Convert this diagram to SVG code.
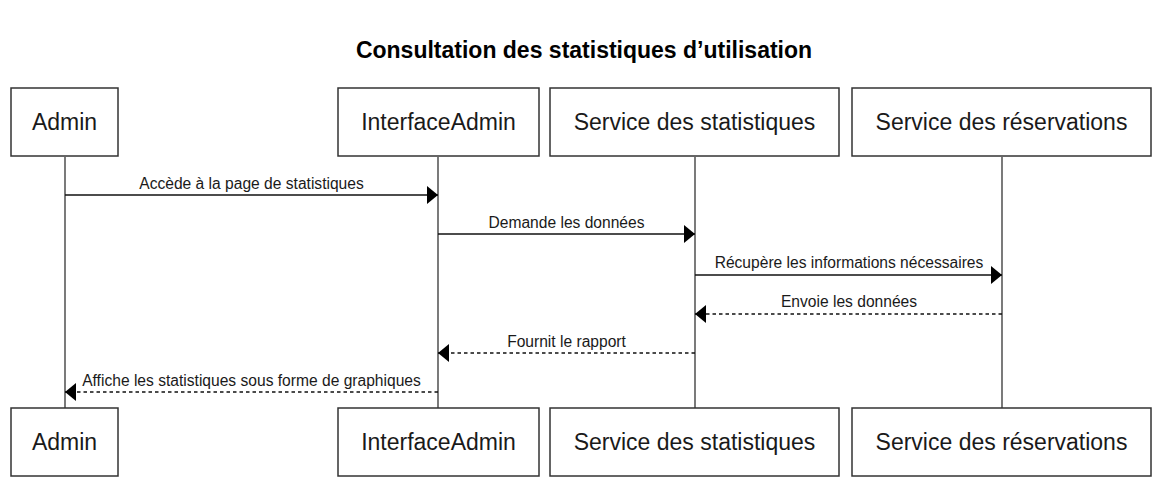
<svg xmlns="http://www.w3.org/2000/svg" width="1162" height="486" viewBox="0 0 1162 486">
  <style>
    .box { fill: #ffffff; stroke: #333333; stroke-width: 1.5; }
    .boxlabel { font-family: "Liberation Sans", Arial, sans-serif; font-size: 23px; fill: #1a1a1a; text-anchor: middle; }
    .title { font-family: "Liberation Sans", Arial, sans-serif; font-size: 23px; font-weight: bold; fill: #000000; text-anchor: middle; }
    .lifeline { stroke: #222222; stroke-width: 1.2; fill: none; }
    .msg { stroke: #111111; stroke-width: 1.5; fill: none; marker-end: url(#ah); }
    .ret { stroke: #111111; stroke-width: 1.5; fill: none; stroke-dasharray: 3.5,3; marker-end: url(#ah); }
    .msglabel { font-family: "Liberation Sans", Arial, sans-serif; font-size: 15.6px; fill: #1a1a1a; text-anchor: middle; }
  </style>
  <defs>
    <marker id="ah" viewBox="0 0 11 18" refX="11" refY="9" markerWidth="11" markerHeight="18" orient="auto" markerUnits="userSpaceOnUse">
      <path d="M0,0 L11,9 L0,18 z" fill="#000000"/>
    </marker>
  </defs>
  <rect x="0" y="0" width="1162" height="486" fill="#ffffff"/>
  <text class="title" x="584" y="58">Consultation des statistiques d’utilisation</text>

  <g id="lifelines">
    <line class="lifeline" x1="65" y1="157" x2="65" y2="408"/>
    <line class="lifeline" x1="438" y1="157" x2="438" y2="408"/>
    <line class="lifeline" x1="695" y1="157" x2="695" y2="408"/>
    <line class="lifeline" x1="1002" y1="157" x2="1002" y2="408"/>
  </g>

  <g id="admin">
    <rect class="box" x="11" y="88" width="107" height="68"/>
    <text class="boxlabel" x="64.5" y="130">Admin</text>
    <rect class="box" x="11" y="408" width="107" height="68"/>
    <text class="boxlabel" x="64.5" y="450">Admin</text>
  </g>
  <g id="interfaceadmin">
    <rect class="box" x="338" y="88" width="201" height="68"/>
    <text class="boxlabel" x="438.5" y="130">InterfaceAdmin</text>
    <rect class="box" x="338" y="408" width="201" height="68"/>
    <text class="boxlabel" x="438.5" y="450">InterfaceAdmin</text>
  </g>
  <g id="service-statistiques">
    <rect class="box" x="550" y="88" width="289" height="68"/>
    <text class="boxlabel" x="694.5" y="130">Service des statistiques</text>
    <rect class="box" x="550" y="408" width="289" height="68"/>
    <text class="boxlabel" x="694.5" y="450">Service des statistiques</text>
  </g>
  <g id="service-reservations">
    <rect class="box" x="852" y="88" width="299" height="68"/>
    <text class="boxlabel" x="1001.5" y="130">Service des réservations</text>
    <rect class="box" x="852" y="408" width="299" height="68"/>
    <text class="boxlabel" x="1001.5" y="450">Service des réservations</text>
  </g>

  <g id="connectors">
    <line class="msg" x1="65" y1="195" x2="438" y2="195"/>
    <text class="msglabel" x="251.5" y="189">Accède à la page de statistiques</text>

    <line class="msg" x1="438" y1="234" x2="695" y2="234"/>
    <text class="msglabel" x="566.5" y="228">Demande les données</text>

    <line class="msg" x1="695" y1="275" x2="1002" y2="275"/>
    <text class="msglabel" x="849" y="268">Récupère les informations nécessaires</text>

    <line class="ret" x1="1002" y1="314" x2="695" y2="314"/>
    <text class="msglabel" x="849" y="307">Envoie les données</text>

    <line class="ret" x1="695" y1="353" x2="438" y2="353"/>
    <text class="msglabel" x="566.5" y="347">Fournit le rapport</text>

    <line class="ret" x1="438" y1="392" x2="65" y2="392"/>
    <text class="msglabel" x="251.5" y="386">Affiche les statistiques sous forme de graphiques</text>
  </g>
</svg>
